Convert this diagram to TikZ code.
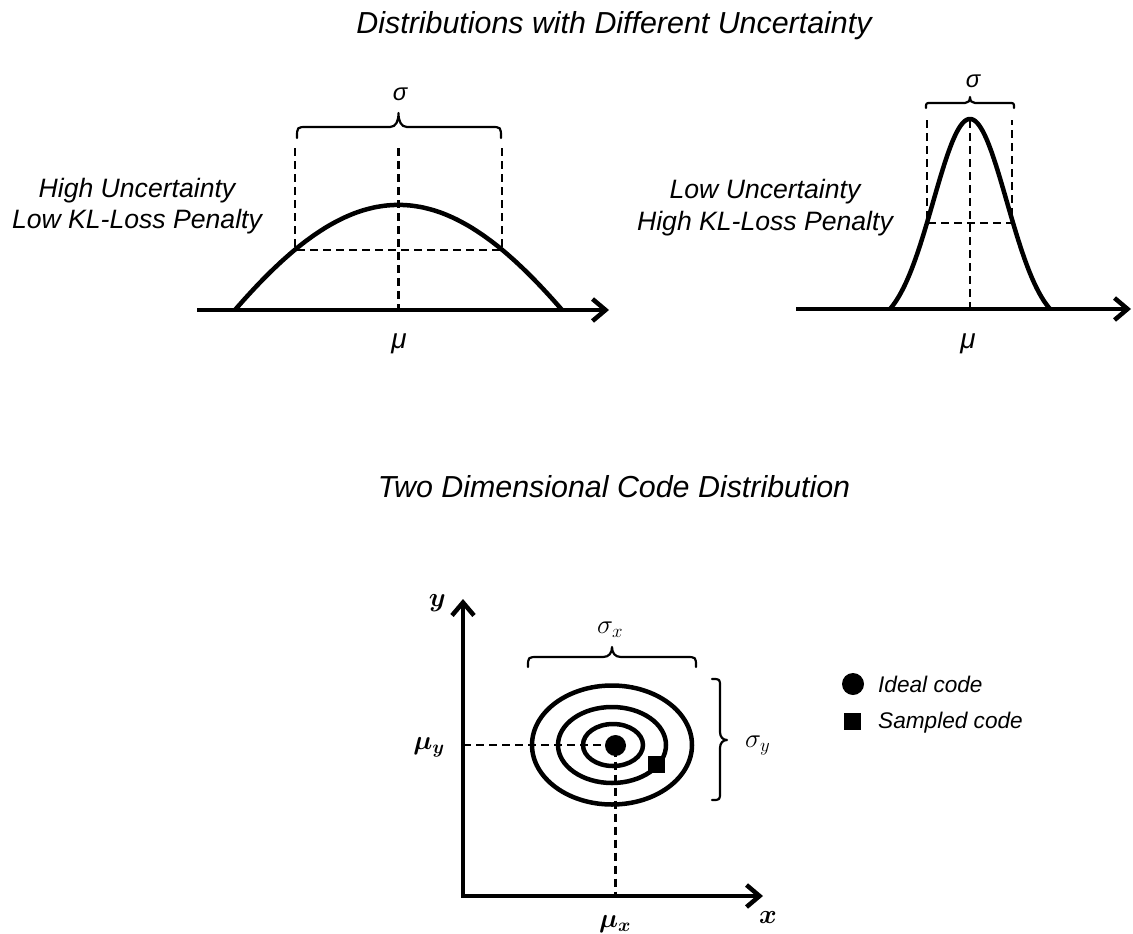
\RequirePackage{fix-cm}
\documentclass[tikz,border=0pt]{standalone}
\usepackage{bm}
\usepackage{fontspec}
\setmainfont{Liberation Sans}
\usetikzlibrary{arrows.meta}
\begin{document}
\begin{tikzpicture}[x=1bp,y=-1bp,
  thickline/.style={line width=4.5bp},
  dashline/.style={line width=2.2bp, dash pattern=on 8bp off 5bp},
  bracepath/.style={line width=2.2bp, line cap=round, line join=round},
  axisarrow/.style={thickline, -{Straight Barb[length=13bp,width=22bp]}},
  titlef/.style={inner sep=0pt, font=\fontsize{30.5}{36}\selectfont\itshape},
  lbl/.style={inner sep=0pt, font=\fontsize{26.7}{32}\selectfont\itshape},
  grk/.style={inner sep=0pt, font=\fontsize{24}{28}\selectfont\itshape},
  mug/.style={inner sep=0pt, font=\fontsize{28}{32}\selectfont\itshape},
  mth/.style={inner sep=0pt, font=\fontsize{27}{32}\selectfont},
  legf/.style={inner sep=0pt, font=\fontsize{22.7}{27}\selectfont\itshape},
  blackdot/.style={fill=black, draw=none}
]
\fill[white] (0,0) rectangle (1133,934);
\useasboundingbox (0,0) rectangle (1133,934);

% titles
\node[titlef, anchor=base] (title1) at (614,33) {Distributions with Different Uncertainty};
\node[titlef, anchor=base] (title2) at (614,497) {Two Dimensional Code Distribution};

% side labels
\node[lbl, anchor=base] (hu)  at (137,197) {High Uncertainty};
\node[lbl, anchor=base] (lkl) at (137,228) {Low KL-Loss Penalty};
\node[lbl, anchor=base] (lu)  at (765,198) {Low Uncertainty};
\node[lbl, anchor=base] (hkl) at (765,230) {High KL-Loss Penalty};

% ---------- left distribution ----------
\draw[dashline] (295,148) -- (295,250) -- (502,250) -- (502,148);
\draw[dashline] (398.5,148) -- (398.5,310);
\draw[thickline] plot[domain=-163.5:163.5, samples=121, smooth]
  ({398.5+\x},{310-105*(exp(-(\x/100)*(\x/100)/12.5)-0.80748)/0.19252});
\coordinate (ax1s) at (197,310);
\coordinate (ax1e) at (609,310);
\draw[axisarrow] (ax1s) -- (ax1e);
\draw[bracepath] (297,138) .. controls (297,127) .. (307,127) -- (390,127)
  .. controls (396,127) and (398.5,121) .. (398.5,113)
  .. controls (398.5,121) and (401,127) .. (407,127) -- (491,127)
  .. controls (501,127) .. (501,138);
\node[grk, anchor=base] (s1) at (400,100) {σ};
\node[mug, anchor=base] (m1) at (399,348) {μ};

% ---------- right distribution ----------
\draw[dashline] (927,120) -- (927,223) -- (1012,223) -- (1012,120);
\draw[dashline] (970,120) -- (970,309);
\draw[thickline] plot[domain=-80:80, samples=121, smooth]
  ({970+\x},{309-190*(exp(-(\x/10)*(\x/10)/27.08)-0.0941)/0.9059});
\coordinate (ax2s) at (796,309);
\coordinate (ax2e) at (1131,309);
\draw[axisarrow] (ax2s) -- (ax2e);
\draw[bracepath] (926,108) .. controls (926,103) .. (931,103) -- (965,103)
  .. controls (968,103) and (970,101) .. (970,97)
  .. controls (970,101) and (972,103) .. (975,103) -- (1009,103)
  .. controls (1014,103) .. (1014,108);
\node[grk, anchor=base] (s2) at (973,87) {σ};
\node[mug, anchor=base] (m2) at (968,348) {μ};

% ---------- two dimensional ----------
\coordinate (ytip) at (463,599);
\coordinate (orig) at (463,896);
\coordinate (xtip) at (763,896);
\draw[dashline] (463,745) -- (615.5,745) -- (615.5,896);
\draw[thickline] (612,745) ellipse [x radius=80, y radius=59.5];
\draw[thickline] (612,745) ellipse [x radius=54, y radius=38];
\draw[thickline] (613,745) ellipse [x radius=30, y radius=21];
\fill[blackdot] (615.5,745.5) circle [radius=10.5];
\fill[blackdot] (648.2,756) rectangle (664.8,772.6);
\draw[thickline, line join=miter, {Straight Barb[length=13bp,width=22bp]}-{Straight Barb[length=13bp,width=22bp]}]
  (ytip) -- (orig) -- (xtip);
% sigma_x brace
\draw[bracepath] (528,667) .. controls (528,657) .. (538,657) -- (603,657)
  .. controls (609,657) and (612,653) .. (612,647)
  .. controls (612,653) and (615,657) .. (621,657) -- (686,657)
  .. controls (696,657) .. (696,667);
% sigma_y brace
\draw[bracepath] (712,679) .. controls (720,679) .. (720,687) -- (720,732)
  .. controls (720,737) and (723,740) .. (727,740)
  .. controls (723,740) and (720,743) .. (720,748) -- (720,792)
  .. controls (720,800) .. (712,800);
\node[mth, anchor=base] (sx) at (610,633) {$\sigma_x$};
\node[mth, anchor=base west] (sy) at (745,747) {$\sigma_y$};
\node[mth, anchor=base east] (muy) at (445,749) {$\bm{\mu_y}$};
\node[mth, anchor=base] (mux) at (615,927) {$\bm{\mu_x}$};
\node[mth, anchor=base east] (ylab) at (446,606) {$\bm{y}$};
\node[mth, anchor=base] (xlab) at (768,923) {$\bm{x}$};

% legend
\fill[blackdot] (853,684) circle [radius=11];
\fill[blackdot] (844,713) rectangle (861,730);
\node[legf, anchor=base west] (ideal) at (878,692) {Ideal code};
\node[legf, anchor=base west] (sampled) at (878,728) {Sampled code};
\end{tikzpicture}
\end{document}
